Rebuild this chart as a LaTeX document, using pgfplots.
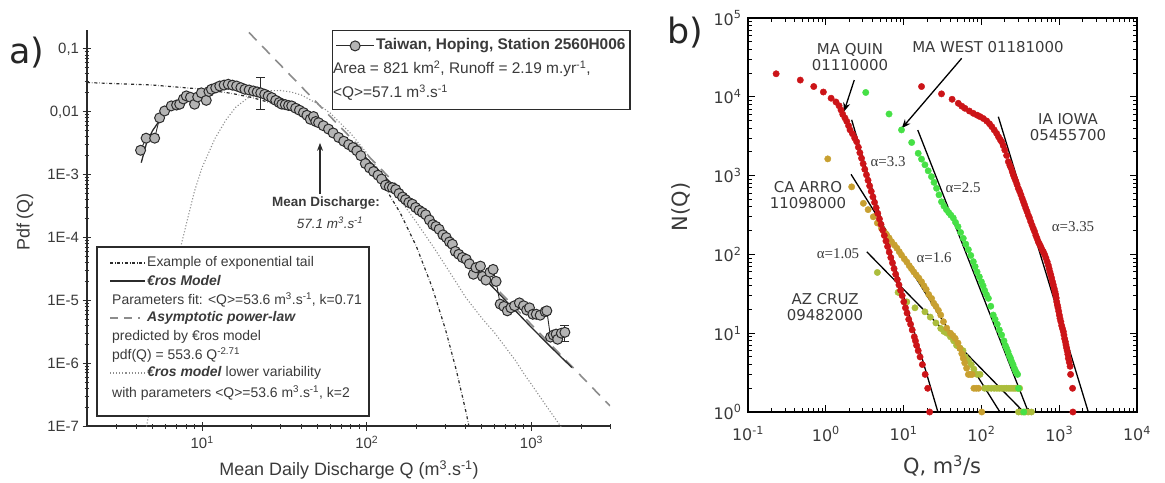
\documentclass[border=0pt]{standalone}
\usepackage{pgfplots}
\pgfplotsset{compat=1.18}
\usepackage{pgfplotstable}
\usepackage{fontspec}
\setmainfont{Liberation Sans}
\newfontfamily\dv{DejaVu Sans}
\newfontfamily\tms{Liberation Serif}
\usetikzlibrary{arrows.meta}
\definecolor{ink}{HTML}{2B2B2B}
\definecolor{txt}{HTML}{3A3A3A}
\definecolor{dgray}{HTML}{8C8C8C}
\definecolor{cfill}{HTML}{B4B4B4}
\definecolor{qred}{HTML}{CC1418}
\definecolor{wgreen}{HTML}{46E046}
\definecolor{ochre}{HTML}{C8A030}
\definecolor{olive}{HTML}{ABBD3C}
\newcommand{\fs}[1]{\fontsize{#1}{#1}\selectfont}

\pgfplotstableread{
Q P
4.23 0.00244
4.57 0.0038
5.15 0.0038
5.52 0.0080
5.92 0.0103
6.5 0.0124
7.0 0.0128
7.31 0.0132
7.7 0.0160
8.02 0.0179
8.5 0.0170
9.0 0.0132
9.4 0.0172
9.9 0.0200
10.6 0.0152
11.0 0.0210
11.4 0.0228
12.1 0.0240
12.8 0.0257
13.6 0.0266
14.4 0.0274
15.3 0.0265
16.2 0.0257
17.2 0.0242
18.2 0.0228
19.3 0.0222
20.5 0.0214
21.6 0.0207
22.7 0.0200
24.0 0.0190
25.2 0.0178
26.5 0.0168
28.0 0.0152
29.4 0.0140
30.5 0.0132
32.0 0.0130
33.5 0.0126
35.0 0.0124
37.0 0.0114
39.0 0.0106
41.3 0.0097
43.3 0.0088
45.4 0.0076
47.5 0.0084
49.0 0.0070
51.0 0.0067
54.5 0.0060
58.6 0.0053
62.5 0.0046
67.5 0.0039
72.5 0.0034
77.7 0.0030
82.5 0.0027
87.0 0.0024
92.0 0.0020
98.0 0.00150
104 0.00128
110 0.00112
117 0.00098
123 0.00085
130 0.00068
137 0.00064
143 0.00062
150 0.00058
157 0.00050
165 0.00044
172 0.00040
180 0.00036
189 0.00034
198 0.00030
208 0.00027
218 0.00025
228 0.00023
240 0.00019
252 0.00016
263 0.00015
275 0.000135
290 0.000110
304 0.000100
318 0.000085
331 0.000078
345 0.000060
362 0.000054
381 0.000048
402 0.000045
420 0.000038
444 0.000026
460 0.000033
490 0.000035
505 0.000024
529 0.000021
560 0.000028
585 0.000031
610 0.000020
646 0.0000087
680 0.0000080
714 0.0000068
750 0.0000076
790 0.0000082
845 0.0000091
896 0.0000082
935 0.0000070
973 0.0000076
1020 0.0000060
1070 0.0000060
1130 0.0000058
1211 0.0000066
1240 0.0000068
1306 0.0000026
1360 0.0000028
1413 0.0000029
1443 0.0000024
1520 0.0000030
1596 0.0000031
}\hoping

\pgfplotstableread{
Q P
4.27 0.00155
4.6 0.0032
5 0.0050
5.5 0.0072
6 0.0093
7 0.0128
8 0.0160
9 0.0190
10 0.0212
12 0.0242
14 0.0258
15 0.0260
17 0.0255
20 0.0238
25 0.0200
30 0.0165
35 0.0135
40 0.0112
50 0.0078
60 0.0055
70 0.0041
80 0.0031
100 0.0018
130 0.00090
160 0.00052
200 0.00029
250 0.00016
300 0.000098
400 0.000045
500 0.0000245
700 0.0000098
1000 0.0000037
1300 0.00000185
1760 0.00000085
}\erosmodel

\pgfplotstableread{
Q P
2 0.02918
5 0.02664
10 0.02290
15 0.01968
20 0.01691
30 0.01249
40 0.009226
50 0.006814
70 0.003717
100 0.001498
130 0.000604
160 0.000243
200 0.0000723
250 0.0000159
300 0.0000035
350 0.000000769
400 0.000000169
430 0.000000068
}\exptail

\pgfplotstableread{
Q P
4.5 0.00000007
5.5 0.0000015
6.5 0.000015
7.5 0.00008
9 0.00055
10 0.0013
12 0.0038
14 0.0075
16 0.0118
20 0.0185
25 0.0215
30 0.0218
35 0.0205
40 0.0185
50 0.0135
60 0.0095
80 0.0045
100 0.0022
150 0.00050
200 0.000175
250 0.000075
300 0.000036
400 0.000011
500 0.0000052
600 0.0000030
800 0.0000011
900 0.00000068
1000 0.00000046
1200 0.00000023
1500 0.0000001
1700 0.00000006
}\eroslow

\pgfplotstableread{
Q N
0.23 19600
0.47 16300
0.70 13500
0.93 11500
1.17 9600
1.35 8600
1.48 7700
1.57 6800
1.65 6000
1.76 5400
1.86 4880
1.96 4300
2.05 3800
2.2 3400
2.35 3000
2.49 2692
2.62 2291
2.74 1950
2.88 1660
3.02 1413
3.17 1202
3.33 1023
3.49 871
3.66 741
3.84 631
4.03 537
4.23 457
4.44 389
4.66 331
4.89 282
5.13 240
5.38 204
5.65 174
5.93 148
6.22 126
6.53 107
6.85 91
7.19 78
7.54 66
7.91 56
8.30 48
8.71 41
9.14 35
9.59 30
10.06 25
10.56 21
11.08 18
11.63 15
12.29 13
12.89 11
13.71 9
14.19 8
14.68 7
15.40 6
16.28 5
17.43 4
18.93 3
20.4 2
21.6 1
}\maquin

\pgfplotstableread{
Q N
17 13500
30.7 10900
42 9300
50.5 8270
56 7600
61.5 7140
70 6600
78.7 6170
88 5850
96 5600
106 5300
117 4930
127 4550
136 4180
146 3800
157 3430
166 3100
175 2850
182 2690
191 2400
200 2110
211 1800
222 1500
232 1350
240 1250
249 1120
257 1020
267 930
277 850
287 770
298 690
310 630
322 570
334 515
346 468
359 425
372 385
386 350
400 316
415 290
430 260
447 235
464 214
482 195
500 175
518 160
537 145
558 135
580 125
602 115
625 108
650 99
675 90
700 81
724 73
742 66
760 60
780 55
800 50
820 45
840 41
862 37
883 33.7
900 31
915 28
930 25
946 22.8
965 21
985 19
1004 17
1024 15.4
1050 14
1075 12.5
1100 11.5
1130 10.5
1150 9.5
1175 8.5
1200 7.8
1222 7.1
1245 6.5
1265 6
1290 5.4
1310 4.8
1345 4.3
1380 3.8
1400 3
1485 2
1500 1
}\iaiowa

\pgfplotstableread{
Q N
3.26 11350
6.5 6050
9.4 3800
12.7 2630
15.4 1920
17 1620
18.8 1370
20.7 1150
22.8 970
24.6 820
26.5 690
28.5 570
30.7 465
33 410
35.5 370
38 340
40.5 315
43.5 290
46.5 255
50 225
54 190
58.5 160
63 135
68 115
73 97
78.7 81
83 70
88 60
94 52
100 45
105 40
110 35
116 31
123 27.7
132 22
142 17
150 15
160 13
170 11
182 9.5
195 8
203 7
211 6.4
220 5.8
228 5.2
237 4.8
245 4.35
255 4
265 3.6
275 3.3
284 3.1
292 3
300 2
350 1
}\mawest

\pgfplotstableread{
Q N
1.06 1630
2.15 720
3.04 445
3.5 370
4.08 300
4.6 250
5.2 214
5.6 195
6.0 180
6.5 162
7.0 145
7.6 132
8.2 120
8.8 108
9.4 98
10.2 88
11 80
11.8 72
12.6 66
13.5 60
14.5 55
15.7 50
17 45
18.2 40
19.5 36
21 31
22.9 27.6
24.4 24
26 22
28 19.5
30 17
32.5 14
35.8 11.6
40 10
43 9.3
46 8.6
50 7.5
53 6.4
56 5.5
58.5 4.8
61 4.2
64.5 3.6
68 3
72 3
76 3
80 2
86 2
92 2
101 1
}\caarro

\pgfplotstableread{
Q N
4.6 59
8.5 33
11 25
14 21
18.8 18.7
22 16
26 13.5
30 11.5
33 10.5
36 10
40 9
44 8
48 7
53 6.5
58 6
62 5
68 4.5
74 4
80 3.5
88 3
96 3
110 2
122 2
134 2
146 2
158 2
170 2
183 2
196 2
210 2
225 2
240 2
256 2
272 2
290 2
310 2
300 1
330 1
365 1
400 1
440 1
}\azcruz

\begin{document}
\begin{tikzpicture}
\useasboundingbox (0bp,0bp) rectangle (1165bp,-483bp);

% ---------------- panel a ----------------
\begin{axis}[
  at={(87bp,-426bp)}, anchor=south west, scale only axis,
  width=523bp, height=396bp,
  xmode=log, ymode=log, xmin=2, xmax=3000, ymin=1e-7, ymax=0.2,
  axis x line*=bottom, axis y line*=left,
  axis line style={ink, line width=1.3bp},
  xtick={10,100,1000},
  xticklabels={10\textsuperscript{1},10\textsuperscript{2},10\textsuperscript{3}},
  minor xtick={3,4,5,6,7,8,9,20,30,40,50,60,70,80,90,200,300,400,500,600,700,800,900,2000,3000},
  ytick={1e-7,1e-6,1e-5,1e-4,1e-3,1e-2,1e-1},
  yticklabels={1E-7,1E-6,1E-5,1E-4,1E-3,{0,01},{0,1}},
  minor ytick={2e-7,3e-7,4e-7,5e-7,6e-7,7e-7,8e-7,9e-7,2e-6,3e-6,4e-6,5e-6,6e-6,7e-6,8e-6,9e-6,2e-5,3e-5,4e-5,5e-5,6e-5,7e-5,8e-5,9e-5,2e-4,3e-4,4e-4,5e-4,6e-4,7e-4,8e-4,9e-4,2e-3,3e-3,4e-3,5e-3,6e-3,7e-3,8e-3,9e-3,2e-2,3e-2,4e-2,5e-2,6e-2,7e-2,8e-2,9e-2},
  tick align=center, major tick length=9bp, minor tick length=5bp,
  tick style={ink, line width=0.9bp},
  tick label style={font=\fs{15}, color=txt},
  xticklabel style={yshift=-2bp},
  legend style={at={(0.4685,1)}, anchor=north west, draw=ink, line width=1.3bp,
    fill=white, font=\fs{15.5}\color{txt}, inner xsep=3bp, inner ysep=6.5bp,
    row sep=6.5bp, nodes={inner sep=1.5bp, text height=11bp, text depth=3.5bp}},
  legend cell align=left,
]
\addplot[dgray, dotted, line width=1.1bp, forget plot] table[x=Q,y=P] {\eroslow};
\addplot[ink, dash dot, line width=1.2bp, forget plot] table[x=Q,y=P] {\exptail};
\addplot[dgray, dash pattern=on 11bp off 8bp, line width=1.6bp, forget plot] coordinates {(16,0.302) (3000,2.09e-7)};
\addplot[ink, line width=1.3bp, forget plot] table[x=Q,y=P] {\erosmodel};
\addplot[ink, line width=0.9bp, forget plot, error bars/.cd, y dir=both, y explicit,
  error bar style={ink, line width=0.9bp}, error mark options={rotate=90, mark size=4.5bp, ink}]
  coordinates {(22.7,0.020) += (0,0.0149) -= (0,0.009)};
\addplot[ink, line width=0.9bp, forget plot, error bars/.cd, y dir=both, y explicit,
  error bar style={ink, line width=0.9bp}, error mark options={rotate=90, mark size=4.5bp, ink}]
  coordinates {(1596,3.1e-6) += (0,0.9e-6) -= (0,0.9e-6)};
\addplot[ink, line width=0.9bp, mark=*, mark size=5bp,
  mark options={fill=cfill, draw=ink, line width=1bp},
  legend image code/.code={\draw[mark repeat=2,mark phase=2] plot coordinates {(0bp,0bp) (19bp,0bp) (38bp,0bp)};}]
  table[x=Q,y=P] {\hoping};
\addlegendentry{\textbf{Taiwan, Hoping, Station 2560H006}}
\addlegendimage{empty legend}
\addlegendentry{\hspace{-43bp}Area = 821 km\textsuperscript{2}, Runoff = 2.19 m.yr\textsuperscript{-1},}
\addlegendimage{empty legend}
\addlegendentry{\hspace{-43bp}<Q>=57.1 m\textsuperscript{3}.s\textsuperscript{-1}}
\draw[ink, line width=1.2bp, -{Stealth[length=8bp,width=6bp]}] (axis cs:52,4.9e-4) -- (axis cs:52,3.2e-3);
\end{axis}

% mean discharge text
\node[font=\fs{13.5}\bfseries, color=txt] at (326bp,-203bp) {Mean Discharge:};
\node[font=\fs{13.5}\itshape, color=txt] at (330bp,-223bp) {57.1 m\textsuperscript{3}.s\textsuperscript{-1}};

% lower-left legend box
\draw[ink, line width=1.3bp, fill=white] (97bp,-247bp) rectangle (369bp,-416bp);
\draw[ink, dash dot, line width=1.1bp] (110bp,-263bp) -- (145bp,-263bp);
\draw[ink, line width=1.3bp] (110bp,-281bp) -- (145bp,-281bp);
\draw[dgray, dash pattern=on 8bp off 6bp, line width=1.4bp] (110bp,-318bp) -- (140bp,-318bp);
\draw[dgray, dotted, line width=1.1bp] (110bp,-373bp) -- (145bp,-373bp);
\begin{scope}[every node/.style={anchor=west, font=\fs{14}, color=txt, inner sep=0pt}]
\node at (147bp,-263bp) {Example of exponential tail};
\node at (147bp,-281bp) {\textbf{\textit{€ros Model}}};
\node at (112bp,-300bp) {Parameters fit: <Q>=53.6 m\textsuperscript{3}.s\textsuperscript{-1}, k=0.71};
\node at (147bp,-318bp) {\textbf{\textit{Asymptotic power-law}}};
\node at (112bp,-337bp) {predicted by €ros model};
\node at (112bp,-355bp) {pdf(Q) = 553.6 Q\textsuperscript{-2.71}};
\node at (147bp,-373bp) {\textbf{\textit{€ros model}} lower variability};
\node at (112bp,-393bp) {with parameters <Q>=53.6 m\textsuperscript{3}.s\textsuperscript{-1}, k=2};
\end{scope}

% axis labels panel a
\node[font=\fs{18}, color=txt] at (349bp,-470bp) {Mean Daily Discharge Q (m\textsuperscript{3}.s\textsuperscript{-1})};
\node[font=\fs{18}, color=txt, rotate=90] at (25bp,-222bp) {Pdf (Q)};
\node[font=\dv\fs{35}, color=black!85] at (27bp,-53bp) {a)};

% ---------------- panel b ----------------
\begin{axis}[
  at={(748bp,-412bp)}, anchor=south west, scale only axis,
  width=389bp, height=394bp,
  xmode=log, ymode=log, xmin=0.1, xmax=10000, ymin=1, ymax=100000,
  axis line style={black, line width=1.8bp},
  tick align=inside, major tick length=7bp, minor tick length=4bp,
  tick style={black, line width=1bp},
  xtick={0.1,1,10,100,1000,10000},
  xticklabels={10\textsuperscript{-1},10\textsuperscript{0},10\textsuperscript{1},10\textsuperscript{2},10\textsuperscript{3},10\textsuperscript{4}},
  ytick={1,10,100,1000,10000,100000},
  yticklabels={10\textsuperscript{0},10\textsuperscript{1},10\textsuperscript{2},10\textsuperscript{3},10\textsuperscript{4},10\textsuperscript{5}},
  minor xtick={0.2,0.3,0.4,0.5,0.6,0.7,0.8,0.9,2,3,4,5,6,7,8,9,20,30,40,50,60,70,80,90,200,300,400,500,600,700,800,900,2000,3000,4000,5000,6000,7000,8000,9000},
  minor ytick={2,3,4,5,6,7,8,9,20,30,40,50,60,70,80,90,200,300,400,500,600,700,800,900,2000,3000,4000,5000,6000,7000,8000,9000,20000,30000,40000,50000,60000,70000,80000,90000},
  tick label style={font=\dv\fs{16}, color=txt},
  xticklabel style={yshift=-11bp},
  yticklabel style={xshift=-3bp},
]
\addplot[only marks, mark=*, mark size=3.2bp, olive, mark options={draw=none, fill=olive}] table[x=Q,y=N] {\azcruz};
\addplot[only marks, mark=*, mark size=3.2bp, ochre, mark options={draw=none, fill=ochre}] table[x=Q,y=N] {\caarro};
\addplot[only marks, mark=*, mark size=3.2bp, wgreen, mark options={draw=none, fill=wgreen}] table[x=Q,y=N] {\mawest};
\addplot[only marks, mark=*, mark size=3.2bp, qred, mark options={draw=none, fill=qred}] table[x=Q,y=N] {\maquin};
\addplot[only marks, mark=*, mark size=3.2bp, qred, mark options={draw=none, fill=qred}] table[x=Q,y=N] {\iaiowa};
\addplot[black, line width=1.3bp] coordinates {(2.15,5100) (27.6,1)};
\addplot[black, line width=1.3bp] coordinates {(15.2,3790) (401,1)};
\addplot[black, line width=1.3bp] coordinates {(165,5590) (2366,1)};
\addplot[black, line width=1.3bp] coordinates {(2.11,1038) (173,1)};
\addplot[black, line width=1.3bp] coordinates {(3.36,108) (350,1)};
\draw[black, line width=1.3bp, -{Stealth[length=9bp,width=7bp]}] (axis cs:2.32,16300) -- (axis cs:1.71,6470);
\draw[black, line width=1.3bp, -{Stealth[length=9bp,width=7bp]}] (axis cs:55.8,30800) -- (axis cs:9.46,3980);
\end{axis}

\begin{scope}[every node/.style={font=\dv\fs{15}, color=txt, align=center}]
\node at (850bp,-57bp) {MA QUIN\\[1bp]01110000};
\node at (988bp,-47bp) {MA WEST 01181000};
\node at (1068bp,-127bp) {IA IOWA\\[1bp]05455700};
\node at (808bp,-195bp) {CA ARRO\\[1bp]11098000};
\node at (825bp,-307bp) {AZ CRUZ\\[1bp]09482000};
\end{scope}
\begin{scope}[every node/.style={font=\tms\fs{15}, color=txt}]
\node at (888bp,-162bp) {α=3.3};
\node at (963bp,-188bp) {α=2.5};
\node at (1073bp,-227bp) {α=3.35};
\node at (838bp,-254bp) {α=1.05};
\node at (934bp,-258bp) {α=1.6};
\end{scope}
\node[font=\dv\fs{21}, color=txt] at (942bp,-466bp) {Q, m\textsuperscript{3}/s};
\node[font=\dv\fs{21}, color=txt, rotate=90] at (681bp,-207bp) {N(Q)};
\node[font=\dv\fs{35}, color=black!85] at (685bp,-33bp) {b)};
\end{tikzpicture}
\end{document}
